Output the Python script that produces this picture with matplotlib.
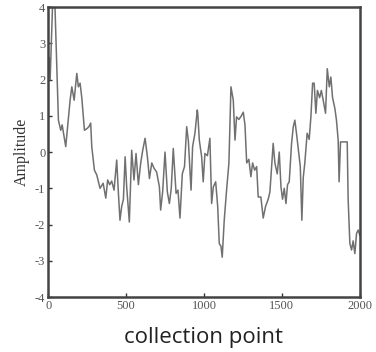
import numpy as np
import matplotlib
matplotlib.use("Agg")
from matplotlib import pyplot as plt

# collection point index and amplitude
points = [0, 6, 13, 28, 44, 66, 81, 90, 113, 141, 152, 167, 184, 194, 205,
          216, 233, 250, 262, 273, 280, 297, 312, 333, 353, 370, 382, 395, 408,
          423, 440, 451, 461, 472, 483, 494, 504, 521, 536, 551, 564, 579, 594,
          607, 622, 637, 650, 665, 680, 696, 714, 722, 735, 750, 765, 778, 790,
          803, 821, 833, 846, 861, 875, 889, 900, 917, 927, 942, 957, 960, 970,
          985, 995, 1006, 1022, 1038, 1049, 1060, 1075, 1088, 1098, 1109, 1117,
          1130, 1145, 1160, 1173, 1188, 1199, 1209, 1224, 1240, 1252, 1263,
          1274, 1288, 1301, 1312, 1325, 1338, 1348, 1365, 1380, 1395, 1412,
          1423, 1444, 1455, 1470, 1483, 1494, 1504, 1515, 1526, 1536, 1547,
          1562, 1573, 1583, 1594, 1609, 1618, 1628, 1637, 1647, 1662, 1675,
          1686, 1697, 1707, 1718, 1728, 1742, 1753, 1765, 1780, 1791, 1804,
          1814, 1825, 1840, 1850, 1861, 1867, 1876, 1919, 1925, 1936, 1947,
          1957, 1968, 1979, 1990, 2000]
amplitude = [2.3, 2.6, 2.0, 4.0, 4.0, 0.88, 0.6, 0.75, 0.15, 1.43, 1.8,
             1.43, 2.17, 1.8, 1.9, 1.5, 0.6, 0.65, 0.7, 0.8, 0.15, -0.5, -0.63,
             -1.0, -0.86, -1.27, -0.77, -0.9, -0.8, -1.05, -0.22, -1.14, -1.88,
             -1.5, -1.3, -0.13, -0.96, -1.93, 0.05, -0.77, -0.04, -0.9, -0.3,
             0.05, 0.38, -0.13, -0.73, -0.3, -0.45, -0.55, -0.96, -1.6, -1.08,
             0.0, -1.1, -1.42, -1.0, 0.1, -1.14, -1.05, -1.82, -0.6, -0.4, 0.7,
             0.3, -1.05, 0.15, 0.52, 1.16, 1.07, 0.33, -0.13, -0.82, -0.04,
             -0.1, 0.38, -1.42, -0.96, -0.82, -1.5, -2.52, -2.6, -2.9, -1.88,
             -1.05, -0.3, 1.8, 1.43, 0.33, 0.97, 0.9, 1.0, 1.1, 0.75, -0.3,
             -0.2, -0.68, -0.3, -0.5, -0.4, -1.24, -1.24, -1.82, -1.5, -1.3,
             -1.1, 0.24, -0.3, -0.6, 0.0, -0.96, -1.3, -1.0, -1.42, -0.9, -0.82,
             0.24, 0.7, 0.88, 0.5, -0.05, -0.4, -1.88, -0.7, -0.3, 0.52, 0.35,
             0.97, 1.9, 1.9, 1.07, 1.7, 1.5, 1.7, 1.43, 1.07, 2.3, 1.8, 2.07,
             1.5, 1.2, 0.88, 0.33, -0.82, 0.28, 0.28, -1.3, -2.52, -2.7, -2.45,
             -2.8, -2.24, -2.15, -2.3]

x_ticks = [0, 500, 1000, 1500, 2000]
y_ticks = [-4, -3, -2, -1, 0, 1, 2, 3, 4]

plt.rcParams['axes.unicode_minus'] = False

fig = plt.figure(figsize=(3.76, 3.52), dpi=100)
ax = fig.add_axes([0.128, 0.156, 0.829, 0.824])

ax.plot(points, amplitude, color='#707070', lw=1.1)

ax.set_xlim(0, 2000)
ax.set_ylim(-4, 4)
ax.set_xticks(x_ticks)
ax.set_yticks(y_ticks)
for lab in ax.get_xticklabels() + ax.get_yticklabels():
    lab.set_family('Liberation Serif')
    lab.set_fontsize(9)
    lab.set_color('#555555')
ax.tick_params(direction='in', length=3, width=1, color='#333333', pad=2)

for s in ax.spines.values():
    s.set_linewidth(1.8)
    s.set_color('#444444')

ax.set_ylabel('Amplitude', family='Liberation Serif', fontsize=11.5,
              color='#333333', labelpad=4)
ax.set_xlabel('collection point', family='Open Sans', fontsize=16,
              color='#222222', labelpad=11)

fig.savefig('out.png', dpi=100)
